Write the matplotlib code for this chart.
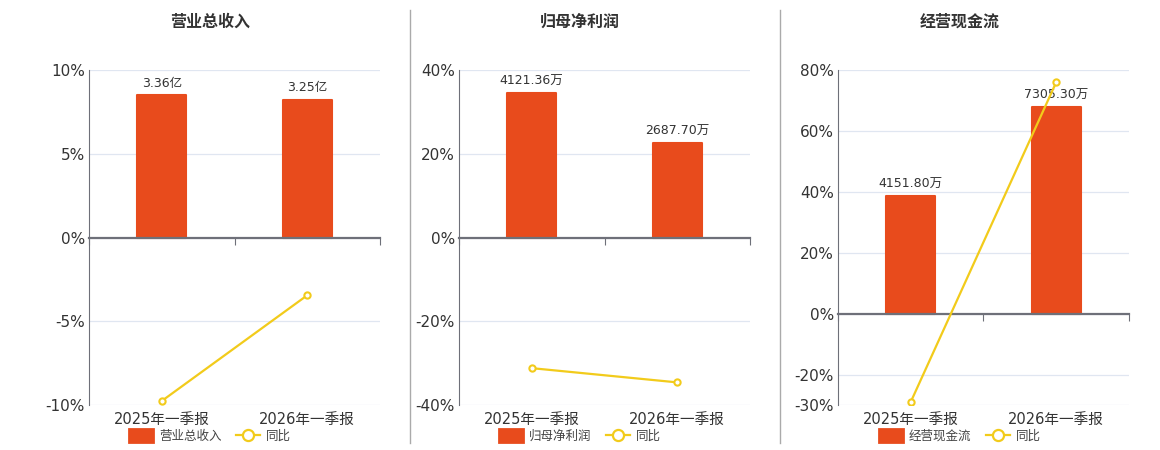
import matplotlib
matplotlib.use('Agg')
import matplotlib.pyplot as plt
from matplotlib.lines import Line2D
from matplotlib.patches import Patch
import numpy as np

plt.rcParams['font.family'] = ['DejaVu Sans', 'Noto Sans CJK SC']

categories = ['2025年一季报', '2026年一季报']

titles = ['营业总收入', '归母净利润', '经营现金流']
bar_values = [[3.36, 3.25], [4121.36, 2687.70], [4151.80, 7305.30]]
bar_labels = [['3.36亿', '3.25亿'], ['4121.36万', '2687.70万'], ['4151.80万', '7305.30万']]
yoy_values = [[-9.76, -3.45], [-31.2, -34.6], [-29.0, 76.0]]

pct_ticks = [[-10, -5, 0, 5, 10], [-40, -20, 0, 20, 40], [-30, -20, 0, 20, 40, 60, 80]]
pct_limits = [(-10, 10), (-40, 40), (-30, 80)]
# bar units per percent, so bars line up with the left axis
bar_scale = [3.36 / 8.5, 4121.36 / 34.5, 7305.3 / 67.8]

bar_color = '#E84B1C'
line_color = '#F2CB1B'
axis_color = '#6E7079'
grid_color = '#E0E6F1'
text_color = '#333333'

fig = plt.figure(figsize=(11.6, 4.5), dpi=100)

lefts = [89, 459, 838]
centers = [210, 580, 960]
W, H = 1160, 450

for k in range(3):
    ax = fig.add_axes([lefts[k] / W, 1 - 405 / H, 291 / W, 335 / H])
    ax2 = ax.twinx()
    ax2.set_zorder(ax.get_zorder() - 1)
    ax.patch.set_visible(False)

    lo, hi = pct_limits[k]
    ax.set_ylim(lo, hi)
    ax2.set_ylim(lo * bar_scale[k], hi * bar_scale[k])
    ax.set_xlim(-0.5, 1.5)
    ax2.set_xlim(-0.5, 1.5)

    # grid on the bar axes so bars sit over it
    ax2.set_yticks(np.array(pct_ticks[k]) * bar_scale[k])
    ax2.yaxis.grid(True, color=grid_color, lw=0.9)
    ax2.set_axisbelow(True)
    ax2.tick_params(right=False, labelright=False)
    for s in ax2.spines.values():
        s.set_visible(False)

    x = np.arange(len(categories))
    ax2.bar(x, bar_values[k], width=0.335, color=bar_color, edgecolor=bar_color,
            linewidth=1.5, joinstyle='round', zorder=2)
    for i, v in enumerate(bar_values[k]):
        ax2.annotate(bar_labels[k][i], (x[i], v), xytext=(0, 4), textcoords='offset points',
                     ha='center', va='bottom', fontsize=9, color=text_color)

    ax.plot(x, yoy_values[k], color=line_color, lw=1.6, marker='o', ms=4.5,
            mfc='white', mec=line_color, mew=1.5, zorder=5)

    ax.set_yticks(pct_ticks[k])
    ax.set_yticklabels([f'{t}%' for t in pct_ticks[k]], fontsize=11, color=text_color)
    ax.tick_params(axis='y', length=0, pad=3)

    ax.spines['top'].set_visible(False)
    ax.spines['right'].set_visible(False)
    ax.spines['left'].set_color(axis_color)
    ax.spines['bottom'].set_position(('data', 0))
    ax.spines['bottom'].set_color(axis_color)
    ax.spines['bottom'].set_linewidth(1.6)
    ax.set_xticks([-0.5, 0.5, 1.5])
    ax.set_xticklabels([])
    ax.tick_params(axis='x', length=5, color=axis_color, direction='out')

    for i, c in enumerate(categories):
        ax.text(x[i], -0.022, c, transform=ax.get_xaxis_transform(), ha='center', va='top',
                fontsize=10.5, color=text_color)

    fig.text(centers[k] / W, 1 - 22 / H, titles[k], ha='center', va='center',
             fontsize=11.5, fontweight='bold', color=text_color)

    handles = [Patch(facecolor=bar_color, edgecolor=bar_color, linewidth=2, joinstyle='round'),
               Line2D([0], [0], color=line_color, lw=1.6, marker='o', ms=8,
                      mfc='white', mec=line_color, mew=1.6)]
    fig.legend(handles, [titles[k], '同比'], loc='center', ncol=2, frameon=False,
               bbox_to_anchor=(centers[k] / W, 1 - 436 / H), fontsize=9,
               handlelength=1.9, handleheight=1.2, handletextpad=0.5, columnspacing=1.2,
               labelcolor='#444444')

# panel dividers
for xd in [410, 780]:
    fig.add_artist(Line2D([xd / W, xd / W], [1 - 443 / H, 1 - 10 / H], color='#AAAAAA', lw=1))

fig.savefig('out.png', dpi=100, facecolor='white')
